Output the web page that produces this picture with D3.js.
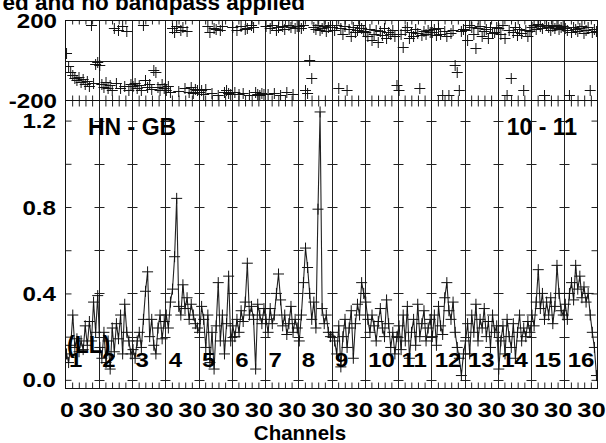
<!DOCTYPE html>
<html><head><meta charset="utf-8">
<script src="https://cdn.jsdelivr.net/npm/d3@7"></script>
<style>
html,body{margin:0;padding:0;background:#fff;}
svg{display:block;font-family:"Liberation Sans",Arial,Helvetica,sans-serif;font-weight:bold;}
</style></head>
<body><svg id="c" width="606" height="443"></svg>
<script>
// ---------- data ----------
const ifLabels = ["1","2","3","4","5","6","7","8","9","10","11","12","13","14","15","16"];
const titleText = "ed and no bandpass applied";
const baselineText = "HN - GB";
const timeText = "10 - 11";
const polText = "(LL)";
const xTitle = "Channels";
const ampTicks = [0.0, 0.4, 0.8, 1.2];
const ampMinor = [0.0, 0.2, 0.4, 0.6, 0.8, 1.0, 1.2];
const phaseTicks = [-200, 200];
const chanTickLabels = ["0", "30"];

// amplitude per IF (16 channels each)
const amplitude = [
  [0.12,0.08,0.16,0.30,0.15,0.19,0.13,0.18,0.14,0.25,0.16,0.27,0.18,0.36,0.22,0.39],
  [0.15,0.10,0.22,0.08,0.18,0.05,0.24,0.13,0.26,0.19,0.30,0.12,0.35,0.22,0.18,0.12],
  [0.14,0.10,0.18,0.22,0.15,0.28,0.41,0.50,0.20,0.28,0.16,0.12,0.24,0.30,0.19,0.27],
  [0.30,0.24,0.36,0.42,0.57,0.84,0.34,0.30,0.44,0.33,0.38,0.28,0.35,0.30,0.26,0.24],
  [0.22,0.34,0.28,0.15,0.30,0.08,0.22,0.05,0.25,0.45,0.18,0.30,0.12,0.26,0.48,0.18],
  [0.25,0.20,0.28,0.22,0.32,0.27,0.36,0.54,0.30,0.34,0.28,0.05,0.35,0.30,0.26,0.33],
  [0.28,0.22,0.33,0.26,0.30,0.40,0.49,0.37,0.25,0.30,0.21,0.26,0.34,0.22,0.28,0.24],
  [0.18,0.30,0.45,0.61,0.52,0.40,0.28,0.36,0.24,0.79,1.24,0.33,0.26,0.30,0.22,0.20],
  [0.22,0.18,0.12,0.25,0.06,0.20,0.28,0.15,0.24,0.32,0.10,0.26,0.35,0.30,0.45,0.40],
  [0.36,0.28,0.22,0.30,0.25,0.18,0.27,0.33,0.24,0.20,0.37,0.26,0.15,0.22,0.12,0.20],
  [0.25,0.14,0.30,0.18,0.34,0.10,0.22,0.28,0.16,0.35,0.20,0.26,0.32,0.18,0.24,0.28],
  [0.20,0.30,0.16,0.34,0.25,0.21,0.38,0.45,0.32,0.28,0.36,0.22,0.15,0.10,0.02,0.12],
  [0.18,0.26,0.12,0.30,0.22,0.35,0.18,0.28,0.24,0.33,0.20,0.27,0.15,0.30,0.22,0.25],
  [0.05,0.18,0.25,0.12,0.28,0.20,0.15,0.26,0.10,0.22,0.30,0.18,0.24,0.20,0.27,0.22],
  [0.30,0.25,0.36,0.51,0.33,0.40,0.28,0.36,0.30,0.38,0.26,0.34,0.53,0.40,0.32,0.30],
  [0.35,0.28,0.40,0.45,0.37,0.53,0.42,0.48,0.38,0.43,0.36,0.40,0.30,0.22,0.15,0.02]
];

// phase (degrees) per IF (16 channels each)
const phase = [
  [35,-30,-60,-75,-90,-100,-85,-110,-95,-120,-105,-130,175,-115,-20,-10],
  [-25,-120,-135,-110,-140,-125,-150,160,-115,150,-140,170,-130,145,-150,-120],
  [-130,-115,-140,-125,-150,175,-100,-135,-120,-145,-50,-60,-135,-150,-120,-140],
  [-150,-130,-160,160,140,170,-155,150,165,-140,145,-160,-135,-165,-145,-150],
  [-160,-150,-170,-145,170,140,-165,160,155,-175,150,170,-160,-150,-165,-170],
  [165,-160,150,-170,170,-165,155,160,-175,175,165,-160,-170,-175,-165,-170],
  [170,-170,160,175,-165,150,165,-175,170,155,-160,175,165,-170,160,170],
  [170,160,175,-150,-165,0,-90,165,155,175,150,160,170,145,165,175],
  [165,150,175,-140,160,130,170,-150,155,120,165,140,150,175,160,145],
  [140,120,155,100,130,150,90,145,125,160,110,140,130,150,120,-125],
  [-150,130,65,150,165,110,140,120,155,135,-140,125,145,130,150,140],
  [140,155,125,160,130,-175,145,120,-175,135,150,-25,-60,-150,145,155],
  [150,100,175,165,130,60,160,170,120,145,155,110,165,135,140,165],
  [160,130,175,110,-175,150,-90,140,165,125,155,135,-150,150,120,145],
  [165,175,155,180,170,160,-175,175,165,150,170,160,175,155,165,170],
  [160,150,-175,140,165,155,145,160,170,135,150,165,-150,140,155,145]
];

// ---------- layout ----------
const L = 65.5, R = 597.5, PT = 20.5, PB = 100.5, AB = 388.5;
const nIF = ifLabels.length;
const nCh = amplitude[0].length;
const svg = d3.select("#c");

const x = d3.scaleLinear().domain([0, nIF]).range([L, R]);
const yA = d3.scaleLinear().domain([-0.04, 1.293]).range([AB, PB]);
const yP = d3.scaleLinear().domain([-200, 200]).range([PB, PT]);

const pos = (i, c) => i + (c + 0.5) / nCh;

const ampPts = [], phPts = [];
amplitude.forEach((arr, i) => arr.forEach((v, c) => ampPts.push({x: pos(i, c), v})));
phase.forEach((arr, i) => arr.forEach((v, c) => phPts.push({x: pos(i, c), v})));

// clip paths
const defs = svg.append("defs");
defs.append("clipPath").attr("id","clipP").append("rect")
  .attr("x", L).attr("y", PT).attr("width", R - L).attr("height", PB - PT);
defs.append("clipPath").attr("id","clipA").append("rect")
  .attr("x", L).attr("y", PB).attr("width", R - L).attr("height", AB - PB);

const grid = svg.append("g").attr("stroke", "#222").attr("stroke-width", 1);
// IF boundary lines
d3.range(1, nIF).forEach(i => {
  grid.append("line").attr("x1", Math.round(x(i)) + 0.5).attr("x2", Math.round(x(i)) + 0.5)
    .attr("y1", PT).attr("y2", AB);
});
// phase zero line
grid.append("line").attr("x1", L).attr("x2", R).attr("y1", Math.round(yP(0)) + 0.5).attr("y2", Math.round(yP(0)) + 0.5);
// amplitude grid dashes at IF boundaries
d3.range(1, nIF).forEach(i => {
  ampMinor.forEach(v => {
    const xx = Math.round(x(i)) + 0.5, yy = Math.round(yA(v)) + 0.5;
    grid.append("line").attr("x1", xx - 5).attr("x2", xx + 5).attr("y1", yy).attr("y2", yy);
  });
});

// minor x ticks (5 per IF)
const xMinor = [];
d3.range(0, nIF).forEach(i => [0.2, 0.4, 0.6, 0.8].forEach(f => xMinor.push(i + f)));
const axG = svg.append("g");
axG.append("g").attr("transform", `translate(0,${AB})`)
  .call(d3.axisBottom(x).tickValues(xMinor).tickSize(-6).tickFormat(""));
axG.append("g").attr("transform", `translate(0,${PB})`)
  .call(d3.axisTop(x).tickValues(xMinor).tickSize(-6).tickFormat(""));
axG.append("g").attr("transform", `translate(0,${PB})`)
  .call(d3.axisBottom(x).tickValues(xMinor).tickSize(-5).tickFormat(""));
axG.append("g").attr("transform", `translate(0,${PT})`)
  .call(d3.axisTop(x).tickValues(xMinor).tickSize(-4).tickFormat(""));
// amplitude y ticks (inner) left and right
axG.append("g").attr("transform", `translate(${L},0)`)
  .call(d3.axisLeft(yA).tickValues(ampMinor).tickSize(-6).tickFormat(""));
axG.append("g").attr("transform", `translate(${R},0)`)
  .call(d3.axisRight(yA).tickValues(ampMinor).tickSize(-6).tickFormat(""));
axG.selectAll(".domain").remove();
axG.selectAll("line").attr("stroke", "#222");

// frames
svg.append("rect").attr("x", L).attr("y", PT).attr("width", R - L).attr("height", PB - PT)
  .attr("fill", "none").attr("stroke", "#111");
svg.append("rect").attr("x", L).attr("y", PB).attr("width", R - L).attr("height", AB - PB)
  .attr("fill", "none").attr("stroke", "#111");

// crosses
const cross = (g, pts, y) => {
  g.append("path").attr("fill", "none").attr("stroke", "#111").attr("stroke-width", 1)
    .attr("d", pts.map(p => {
      const px = x(p.x), py = y(p.v);
      return `M${px - 5.5},${py}h11M${px},${py - 5.5}v11`;
    }).join(""));
};

const gP = svg.append("g").attr("clip-path", "url(#clipP)");
cross(gP, phPts, yP);

const gA = svg.append("g").attr("clip-path", "url(#clipA)");
gA.append("path").datum(ampPts).attr("fill", "none").attr("stroke", "#222").attr("stroke-width", 1.1)
  .attr("d", d3.line().x(d => x(d.x)).y(d => yA(d.v)));
cross(gA, ampPts, yA);

// texts (sx = horizontal stretch to mimic the wide plotting font)
const txt = (s, xx, yy, size, anchor, sx) => svg.append("text").text(s)
  .attr("transform", `translate(${xx},${yy}) scale(${sx || 1},1)`)
  .attr("font-size", size).attr("text-anchor", anchor || "start")
  .attr("fill", "#000");

txt(titleText, 305, 10, 22.5, "end");
phaseTicks.forEach(v => txt(String(v), 57, yP(v) + 7.5, 21, "end", 1.15));
ampTicks.forEach(v => txt(v.toFixed(1), 56, yA(v) + 7.5, 21, "end", 1.15));
txt(baselineText, 88, 135, 23, "start");
txt(timeText, 577, 135, 23, "end");
txt(polText, 67, 353, 23, "start");
ifLabels.forEach((s, i) => txt(s, x(i) + 3.5, 367, 20, "start", 1.2));
txt(chanTickLabels[0], x(0) + 1.5, 417, 21, "middle", 1.2);
d3.range(0, nIF).forEach(i => txt(chanTickLabels[1], x(i + 0.82), 417, 21, "middle", 1.22));
txt(xTitle, 300, 440, 20.5, "middle");
</script></body></html>
